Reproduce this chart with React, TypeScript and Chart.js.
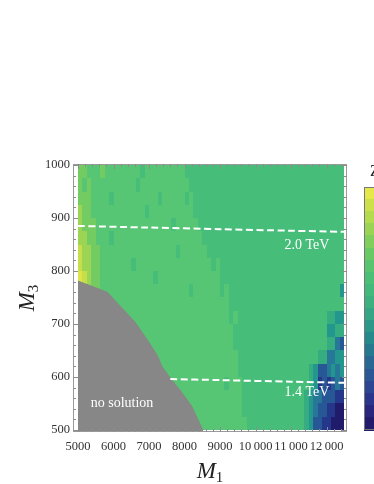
import React, { useEffect, useRef } from "react";
import { Chart, registerables } from "chart.js";

Chart.register(...registerables);

// ---------- data ----------
const X_START = 5000;
const X_STEP = 125;
const Y_END = 1000;
const Y_STEP = 25;

// heat-map levels, rows from top (M3 975-1000) to bottom (M3 500-525), 60 columns of 125 in M1
const HEAT_ROWS: string[] = [
  ["8877787777", "7777677777", "7777666666", "6666666666", "6666666666", "6666666666"],
  ["8787777777", "7776777777", "7777766666", "6666666666", "6666666666", "6666666666"],
  ["8887777677", "7777777767", "7777676666", "6666666666", "6666666666", "6666666666"],
  ["9887777777", "7777767777", "7777776666", "6666666666", "6666666666", "6666666666"],
  ["9888777777", "7777777777", "7677777666", "6666666666", "6666666666", "6666666666"],
  ["9988777677", "7777777777", "7777777766", "6666666666", "6666666666", "6666666666"],
  ["a998877777", "7777777777", "7767777776", "6666666666", "6666666666", "6666666666"],
  ["a998877777", "7767777777", "7777777777", "6766666666", "6666666666", "6666666666"],
  ["ba98877777", "7777777677", "7777777777", "7766666666", "6666666666", "6666666666"],
  ["a998877777", "7777777777", "7777767777", "7767666666", "6666666666", "6666666664"],
  ["a988777777", "7777777777", "7777777777", "7777666666", "6666666666", "6666666666"],
  ["9887777777", "7777777777", "7777777777", "7777676666", "6666666666", "6666665544"],
  ["8877777777", "7777777777", "7777777777", "7777766666", "6666666666", "6666664455"],
  ["7777777777", "7777777777", "7777777777", "7777766666", "6666666666", "6666665532"],
  ["7777777777", "7777777777", "7777777777", "7777776666", "6666666666", "6666553344"],
  ["7777777777", "7777777777", "7777777777", "7777776666", "6666666666", "6654223434"],
  ["7777777777", "7777777777", "7777777777", "7776777666", "6666666666", "6654121232"],
  ["7777777777", "7777777777", "7777777777", "7777777666", "6666666666", "6543322211"],
  ["7777777777", "7777777777", "7777777777", "7777777666", "6666666666", "6543221100"],
  ["7777777777", "7777777777", "7777777777", "7777777766", "6666666666", "6542211000"],
].map((g) => g.join(""));

const LEVEL_COLORS: Record<string, string> = {
  "0": "#201c6b",
  "1": "#25378a",
  "2": "#285796",
  "3": "#277898",
  "4": "#23968e",
  "5": "#36ad81",
  "6": "#47bd7a",
  "7": "#57c674",
  "8": "#72cc62",
  "9": "#9cd553",
  a: "#c5de4a",
  b: "#e0e448",
};

const NO_SOLUTION_M1 = [5000, 5820, 6100, 6600, 6950, 7230, 7370, 7600, 7930, 8200, 8500, 8530];
const NO_SOLUTION_M3 = [781, 760, 740, 704, 670, 641, 619, 598, 570, 545, 502, 500];

const LINE_20_M1 = [5000, 7000, 9000, 11000, 12500];
const LINE_20_M3 = [885, 882, 879, 876, 874];
const LINE_14_M1 = [7600, 9000, 11000, 12500];
const LINE_14_M3 = [596, 594, 591, 589];

const X_TICKS = [5000, 6000, 7000, 8000, 9000, 10000, 11000, 12000];
const Y_TICKS = [500, 600, 700, 800, 900, 1000];

const COLORBAR = [
  "#e6e74b", "#cde049", "#b4da4d", "#9bd454", "#82ce5c", "#6bc965", "#58c46f",
  "#4cbf77", "#44b97c", "#3eb080", "#35a585", "#2b9889", "#26898c", "#277990",
  "#2a6893", "#2c5795", "#2d4693", "#2b358b", "#28267d", "#221b6c",
];

const SERIF = '"Liberation Serif", "DejaVu Serif", serif';

function fmtX(v: number): string {
  if (v >= 10000) {
    const s = String(v);
    return s.slice(0, s.length - 3) + "\u2009" + s.slice(s.length - 3);
  }
  return String(v);
}

const heatmapPlugin = {
  id: "heatmap",
  beforeDatasetsDraw(chart: any) {
    const { ctx } = chart;
    const xs = chart.scales.x;
    const ys = chart.scales.y;
    ctx.save();
    HEAT_ROWS.forEach((row, r) => {
      const yTop = Y_END - r * Y_STEP;
      const py0 = Math.round(ys.getPixelForValue(yTop));
      const py1 = Math.round(ys.getPixelForValue(yTop - Y_STEP));
      for (let c = 0; c < row.length; c++) {
        const x0 = X_START + c * X_STEP;
        const px0 = Math.round(xs.getPixelForValue(x0));
        const px1 = Math.round(xs.getPixelForValue(x0 + X_STEP));
        ctx.fillStyle = LEVEL_COLORS[row[c]] || LEVEL_COLORS["6"];
        ctx.fillRect(px0, py0, px1 - px0, py1 - py0);
      }
    });
    ctx.restore();
  },
};

const framePlugin = {
  id: "frame",
  afterDatasetsDraw(chart: any) {
    const { ctx, chartArea: a } = chart;
    const xs = chart.scales.x;
    const ys = chart.scales.y;
    ctx.save();
    // annotations
    ctx.fillStyle = "#ffffff";
    ctx.font = "14px " + SERIF;
    ctx.textAlign = "center";
    ctx.textBaseline = "middle";
    ctx.fillText("2.0 TeV", xs.getPixelForValue(11450), ys.getPixelForValue(849));
    ctx.fillText("1.4 TeV", xs.getPixelForValue(11450), ys.getPixelForValue(570));
    ctx.fillText("no solution", xs.getPixelForValue(6240), ys.getPixelForValue(551));

    // frame
    ctx.strokeStyle = "#9a9a9a";
    ctx.lineWidth = 1;
    ctx.strokeRect(a.left + 0.5, a.top + 0.5, a.right - a.left - 1, a.bottom - a.top - 1);
    ctx.strokeStyle = "#8c8c8c";
    ctx.beginPath();
    for (let v = 5000; v <= 12500; v += 200) {
      const px = Math.round(xs.getPixelForValue(v)) + 0.5;
      const len = v % 1000 === 0 ? 5 : 3;
      ctx.moveTo(px, a.bottom);
      ctx.lineTo(px, a.bottom - len);
      ctx.moveTo(px, a.top);
      ctx.lineTo(px, a.top + len);
    }
    for (let v = 500; v <= 1000; v += 20) {
      const py = Math.round(ys.getPixelForValue(v)) + 0.5;
      const len = v % 100 === 0 ? 5 : 3;
      ctx.moveTo(a.left, py);
      ctx.lineTo(a.left + len, py);
      ctx.moveTo(a.right, py);
      ctx.lineTo(a.right - len, py);
    }
    ctx.stroke();
    ctx.restore();
  },
  afterDraw(chart: any) {
    const { ctx } = chart;
    ctx.save();
    // axis titles
    const drawSub = (main: string, sub: string, cx: number, base: number) => {
      ctx.font = "italic 23px " + SERIF;
      const w1 = ctx.measureText(main).width;
      ctx.font = "15px " + SERIF;
      const w2 = ctx.measureText(sub).width;
      const start = cx - (w1 + w2) / 2;
      ctx.textAlign = "left";
      ctx.textBaseline = "alphabetic";
      ctx.font = "italic 23px " + SERIF;
      ctx.fillText(main, start, base);
      ctx.font = "15px " + SERIF;
      ctx.fillText(sub, start + w1, base + 4);
    };
    ctx.fillStyle = "#222222";
    drawSub("M", "1", 210, 478);
    ctx.translate(34, 298);
    ctx.rotate(-Math.PI / 2);
    drawSub("M", "3", 0, 0);
    ctx.setTransform(1, 0, 0, 1, 0, 0);

    // colour bar legend
    const top = 187;
    const bottom = 429;
    const left = 364;
    const h = (bottom - top) / COLORBAR.length;
    COLORBAR.forEach((c, i) => {
      ctx.fillStyle = c;
      ctx.fillRect(left, Math.round(top + i * h), 14, Math.ceil(h) + 1);
    });
    ctx.strokeStyle = "#777777";
    ctx.lineWidth = 1;
    ctx.strokeRect(left + 0.5, top + 0.5, 20, bottom - top);
    ctx.fillStyle = "#222222";
    ctx.font = "16px " + SERIF;
    ctx.textAlign = "left";
    ctx.textBaseline = "alphabetic";
    ctx.fillText("Z", 370, 176);
    ctx.restore();
  },
};

export default function App() {
  const ref = useRef<HTMLCanvasElement | null>(null);
  useEffect(() => {
    if (!ref.current) return;
    const pts = (xs: number[], ys: number[]) => xs.map((x, i) => ({ x, y: ys[i] }));
    const chart = new Chart(ref.current, {
      type: "scatter",
      data: {
        datasets: [
          {
            type: "line",
            data: pts(LINE_20_M1, LINE_20_M3),
            borderColor: "#ffffff",
            borderWidth: 2,
            borderDash: [7, 3.5],
            pointRadius: 0,
            fill: false,
            tension: 0.3,
          } as any,
          {
            type: "line",
            data: pts(LINE_14_M1, LINE_14_M3),
            borderColor: "#ffffff",
            borderWidth: 2,
            borderDash: [7, 3.5],
            pointRadius: 0,
            fill: false,
            tension: 0.3,
          } as any,
          {
            type: "line",
            data: pts(NO_SOLUTION_M1, NO_SOLUTION_M3),
            borderColor: "#878787",
            borderWidth: 1,
            backgroundColor: "#878787",
            pointRadius: 0,
            fill: "start",
            tension: 0,
          } as any,
        ],
      },
      options: {
        responsive: false,
        animation: false,
        events: [],
        layout: { padding: { top: 164, right: 27, left: 0, bottom: 0 } },
        plugins: { legend: { display: false }, tooltip: { enabled: false } },
        scales: {
          x: {
            type: "linear",
            min: 4859,
            max: 12577,
            grid: { display: false, drawTicks: false },
            border: { display: false },
            afterBuildTicks: (s: any) => {
              s.ticks = X_TICKS.map((v) => ({ value: v }));
            },
            afterFit: (s: any) => {
              s.height = 52;
            },
            ticks: {
              autoSkip: false,
              maxRotation: 0,
              padding: 7,
              color: "#333333",
              font: { family: SERIF, size: 12.5 },
              callback: (v: any) => fmtX(Number(v)),
            },
          },
          y: {
            type: "linear",
            min: 496,
            max: 1002,
            grid: { display: false, drawTicks: false },
            border: { display: false },
            afterBuildTicks: (s: any) => {
              s.ticks = Y_TICKS.map((v) => ({ value: v }));
            },
            afterFit: (s: any) => {
              s.width = 73;
            },
            ticks: {
              autoSkip: false,
              padding: 3,
              color: "#333333",
              font: { family: SERIF, size: 12.5 },
              callback: (v: any) => String(v),
            },
          },
        },
      },
      plugins: [heatmapPlugin, framePlugin],
    } as any);
    return () => chart.destroy();
  }, []);
  return (
    <div style={{ position: "absolute", left: 0, top: 0, width: 374, height: 484, background: "#ffffff" }}>
      <canvas ref={ref} width={374} height={484} style={{ display: "block" }} />
    </div>
  );
}
